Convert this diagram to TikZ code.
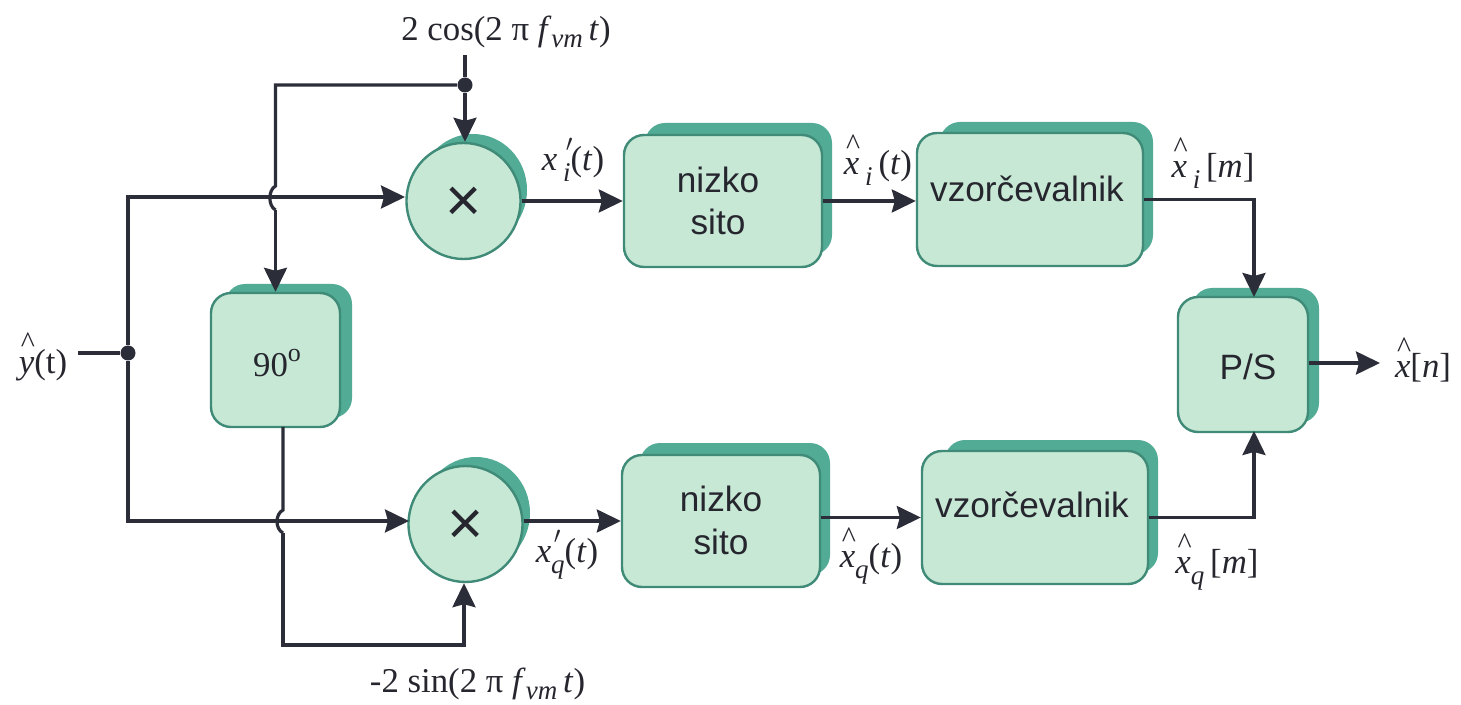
\documentclass[tikz,border=0pt]{standalone}
\usepackage{fontspec}
\setmainfont{Liberation Serif}
\newfontfamily\boxfont{Liberation Sans}
\usetikzlibrary{arrows.meta,shapes.geometric,calc}
\definecolor{fillc}{HTML}{C8E8D6}
\definecolor{edgec}{HTML}{3F8B78}
\definecolor{shadec}{HTML}{52AB94}
\definecolor{wirec}{HTML}{2B2E38}
\definecolor{textc}{HTML}{26262E}
% label helpers
\newcommand{\hatted}[1]{\makebox[0pt][l]{\raisebox{.58em}{\kern.06em\fontsize{15}{15}\selectfont\^{}}}\textit{#1}}
\newcommand{\lowsub}[1]{\raisebox{-.32em}{\fontsize{13.5}{13.5}\selectfont\textit{#1}}}
\newcommand{\primesub}[1]{\makebox[0pt][l]{\raisebox{.18em}{\kern.08em\textit{$'$}}}\raisebox{-.32em}{\fontsize{13.5}{13.5}\selectfont\textit{#1}}}
\newcommand{\fvm}{\textit{f}\raisebox{-.22em}{\fontsize{13.5}{13.5}\selectfont\textit{vm}}}
\tikzset{
  x=0.5pt,y=-0.5pt,
  wh/.style n args={2}{minimum width=#1*0.5pt,minimum height=#2*0.5pt},
  front/.style={draw=edgec,fill=fillc,line width=1.2pt,rounded corners=10pt,inner sep=0pt},
  back/.style={fill=shadec,rounded corners=10pt,inner sep=0pt},
  mulf/.style={ellipse,draw=edgec,fill=fillc,line width=1.2pt,minimum width=57pt,minimum height=58pt,inner sep=0pt},
  mulb/.style={ellipse,fill=shadec,minimum width=54pt,minimum height=56pt,inner sep=0pt},
  wire/.style={draw=wirec,line width=1.6pt},
  arr/.style={wire,-{Stealth[length=12pt,width=11.5pt,inset=1.5pt]}},
  dotn/.style={circle,fill=wirec,minimum size=7.5pt,inner sep=0pt},
  lab/.style={text=textc,inner sep=0pt,font=\fontsize{17.4}{17.4}\selectfont},
  sanslab/.style={lab,font=\boxfont\fontsize{17.6}{22}\selectfont},
  crosslab/.style={lab,font=\boxfont\fontsize{31}{31}\selectfont},
}
\begin{document}
\begin{tikzpicture}
\useasboundingbox (0,0) rectangle (1461,705);
% shadows
\node[back,wh={127}{134}] (phb) at (288.5,351) {};
\node[back,wh={187}{132}] (n1b) at (738.5,189) {};
\node[back,wh={213}{133}] (v1b) at (1046.5,188.5) {};
\node[back,wh={190}{132}] (n2b) at (735,509) {};
\node[back,wh={213}{133}] (v2b) at (1051.5,506.5) {};
\node[back,wh={127}{135}] (psb) at (1255.5,355.5) {};
\node[mulb] (m1b) at (473,190) {};
\node[mulb] (m2b) at (476,513) {};
% fronts
\node[front,wh={129}{134}] (ph) at (275.5,360) {};
\node[front,wh={198}{132}] (n1) at (723,201) {};
\node[front,wh={226}{133}] (v1) at (1030,199.5) {};
\node[front,wh={198}{132}] (n2) at (721,521) {};
\node[front,wh={226}{133}] (v2) at (1035,517.5) {};
\node[front,wh={130}{135}] (ps) at (1243,364.5) {};
\node[mulf] (m1) at (463.5,201) {};
\node[mulf] (m2) at (465.5,524) {};
% box texts
\node[lab] (tph) at (277,363) {90\raisebox{.42em}{\fontsize{13}{13}\selectfont o}};
\node[sanslab] (tn1a) at (718,180) {nizko};
\node[sanslab] (tn1b) at (718,222) {sito};
\node[sanslab] (tn2a) at (721,499) {nizko};
\node[sanslab] (tn2b) at (721,542) {sito};
\node[sanslab] (tv1) at (1027,189) {vzorčevalnik};
\node[sanslab] (tv2) at (1032,505) {vzorčevalnik};
\node[sanslab] (tps) at (1248,367) {P/S};
\node[crosslab] (tm1) at (463.5,204) {×};
\node[crosslab] (tm2) at (465.5,527) {×};
% junctions and free ends
\node[dotn] (dtop) at (465,85) {};
\node[dotn] (dleft) at (128,353) {};
\coordinate (cos) at (465,55);
\coordinate (yin) at (78,353);
\coordinate (in1) at (405,197);
\coordinate (in2) at (409,521);
\coordinate (ja) at (275.5,186);
\coordinate (jb) at (275.5,210);
\coordinate (jc) at (283,510);
\coordinate (jd) at (283,533);
\coordinate (phout) at (283,427);
\coordinate (sinb) at (283,645);
\coordinate (sinc) at (464,645);
\coordinate (pstop) at (1254,297);
\coordinate (psbot) at (1254,431);
\coordinate (psout) at (1380,363);
% connectors
\draw[wire] (cos) -- (dtop);
\draw[arr] (dtop) -- (m1.north -| dtop);
\draw[wire] (dtop) -- (275.5,85) -- (ja) .. controls (268,190) and (268,206) .. (jb);
\draw[arr] (jb) -- (ph.north -| jb);
\draw[wire] (yin) -- (dleft);
\draw[arr] (dleft) |- (in1);
\draw[arr] (dleft) |- (in2);
\draw[wire] (phout) -- (jc) .. controls (275,514) and (275,529) .. (jd);
\draw[arr] (jd) -- (sinb) -- (sinc) -- (sinc |- m2.south);
\draw[arr] (m1.east) -- (m1.east -| n1.west);
\draw[arr] (n1.east) -- (n1.east -| v1.west);
\draw[arr] (m2.east |- n2.west) -- (n2.west);
\draw[arr] (n2.east |- v2.west) -- (v2.west);
\draw[arr] (v1.east) -| (pstop);
\draw[arr] (v2.east) -| (psbot);
\draw[arr] (ps.east |- psout) -- (psout);
% labels
\node[lab] (lcos) at (506,32) {2 cos(2 π \fvm\,\textit{t})};
\node[lab] (lsin) at (477.5,684) {-2 sin(2 π \fvm\,\textit{t})};
\node[lab] (ly) at (43,357) {\hatted{y}(t)};
\node[lab] (lx1) at (573,160) {\textit{x\,}\primesub{i}(\textit{t})};
\node[lab] (lx2) at (567,555) {\textit{x}\primesub{q}(\textit{t})};
\node[lab] (lh1) at (878,160) {\hatted{x}\,\lowsub{i}\,(\textit{t})};
\node[lab] (lh2) at (871,556) {\hatted{x}\lowsub{q}(\textit{t})};
\node[lab] (lm1) at (1213,163) {\hatted{x}\,\lowsub{i}\,[\textit{m}]};
\node[lab] (lm2) at (1217,562) {\hatted{x}\lowsub{q}\,[\textit{m}]};
\node[lab] (ln) at (1423,360) {\hatted{x}[\textit{n}]};
\end{tikzpicture}
\end{document}
